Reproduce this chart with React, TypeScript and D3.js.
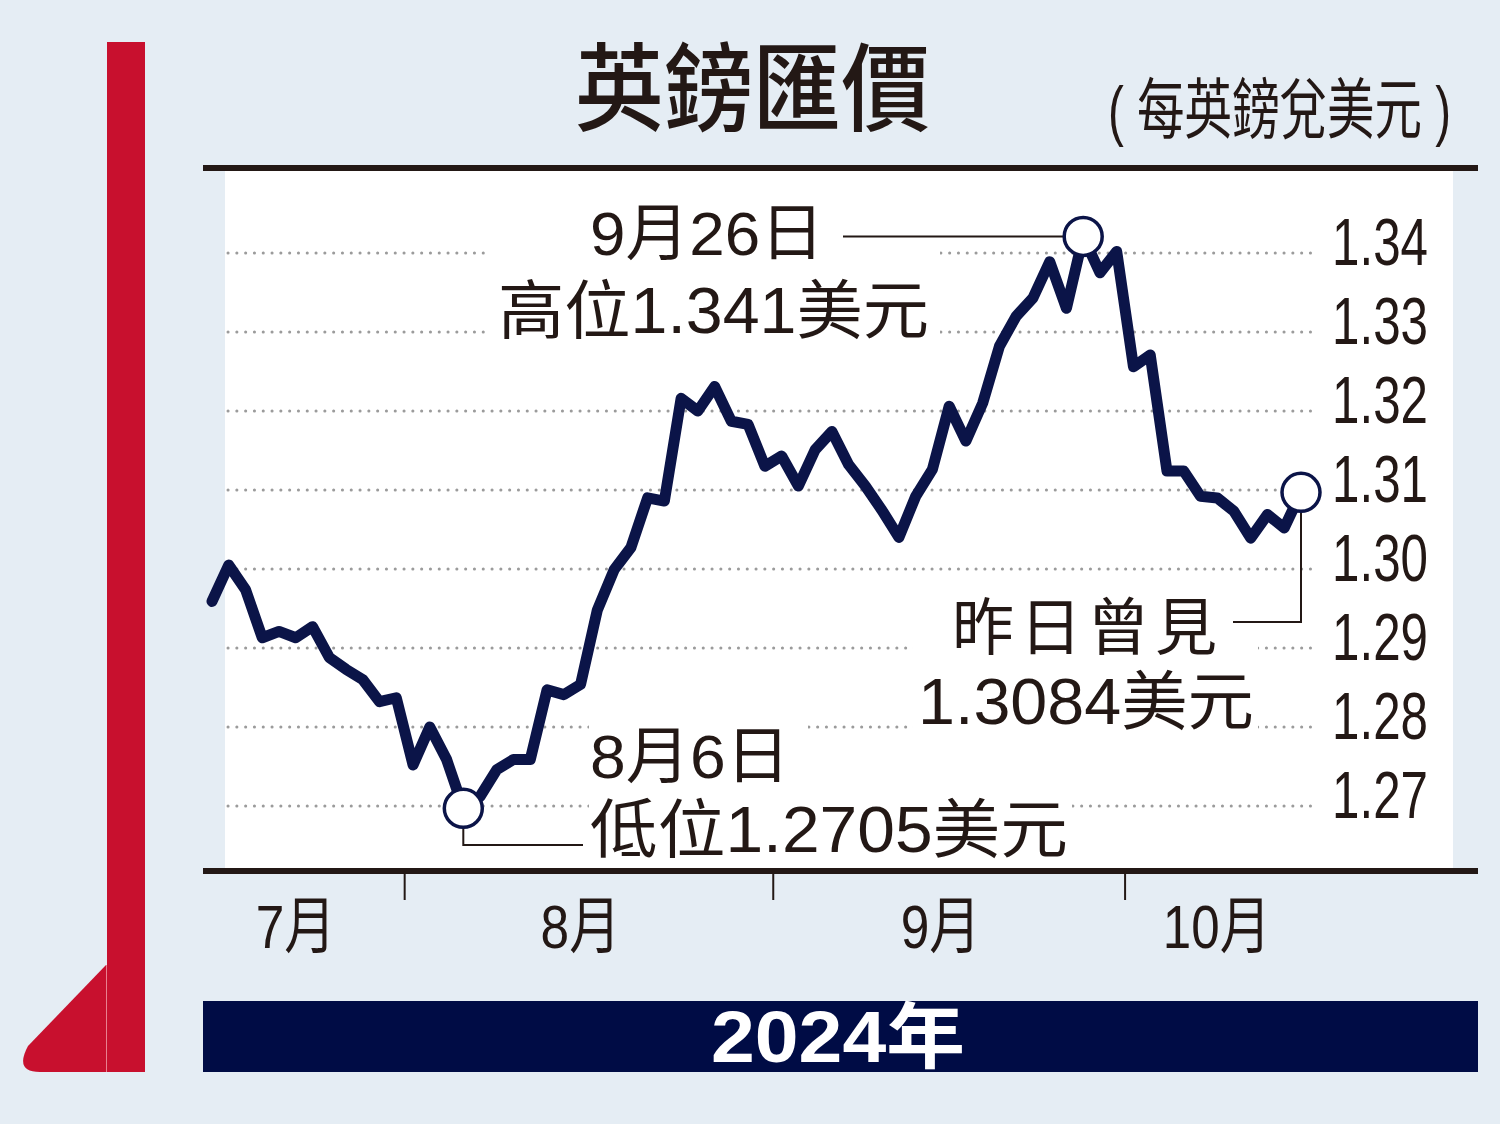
import React from 'react';
import * as d3 from 'd3';

// GBP/USD daily close, 16 Jul - 15 Oct 2024 (trading days)
const months = ['7月', '8月', '9月', '10月'];
const tradingDays = [12, 22, 21, 11];
const gbpUsd = [
  1.2959, 1.3005, 1.2974, 1.2913, 1.2921, 1.2913, 1.2927, 1.2888, 1.2873, 1.286, 1.2832, 1.2837,
  1.2752, 1.28, 1.2759, 1.2697, 1.2712, 1.2746, 1.2759, 1.2759, 1.2847, 1.2841, 1.2854, 1.2948,
  1.2999, 1.3027, 1.309, 1.3086, 1.3216, 1.32, 1.3231, 1.3187, 1.3183, 1.313,
  1.3143, 1.3105, 1.3151, 1.3174, 1.3132, 1.3105, 1.3074, 1.304, 1.3092, 1.3126, 1.3206, 1.3162,
  1.321, 1.3282, 1.332, 1.3343, 1.3389, 1.333, 1.3421, 1.3375, 1.3402,
  1.3256, 1.3271, 1.3124, 1.3124, 1.3092, 1.309, 1.3073, 1.3039, 1.3069, 1.3052, 1.3097,
];
const yTicks = [1.27, 1.28, 1.29, 1.3, 1.31, 1.32, 1.33, 1.34];
const highIdx = 52;
const lowIdx = 15;
const lastIdx = gbpUsd.length - 1;

const ink = '#231815';
const navy = '#0b1448';
const latin = "'Liberation Sans', Arial, 'Noto Sans CJK TC', sans-serif";
const cjk = "'Noto Sans CJK TC', 'Noto Sans CJK SC', sans-serif";

const App: React.FC = () => {
  const x = d3.scaleLinear().domain([0, gbpUsd.length - 1]).range([212, 1301]);
  const y = d3.scaleLinear().domain([1.27, 1.34]).range([806, 253]);
  const line = d3.line<number>().x((_, i) => x(i)).y((d) => y(d));

  // month boundaries in trading-day index
  const starts = Array.from(d3.cumsum([0, ...tradingDays]));
  const ticks = starts.slice(1, -1).map((s) => x(s - 0.5));
  const labelX = months.map((_, k) => x((starts[k] + starts[k + 1]) / 2 - 1));

  const r = 19;
  const hx = x(highIdx), hy = y(gbpUsd[highIdx]);
  const lx = x(lowIdx), ly = y(gbpUsd[lowIdx]);
  const px = x(lastIdx), py = y(gbpUsd[lastIdx]);

  return (
    <svg width={1500} height={1124} style={{ position: 'absolute', left: 0, top: 0 }}>
      <rect width={1500} height={1124} fill="#e5edf4" />

      {/* red side bar */}
      <rect x={107} y={42} width={38} height={1030} fill="#c8102e" />
      <path d="M106,965 L28,1046 Q14,1072 40,1072 L106,1072 Z" fill="#c8102e" />
      <line x1={106.5} x2={106.5} y1={965} y2={1072} stroke="#e8808f" strokeWidth={1} />

      {/* title */}
      <text x={575} y={123} fontFamily={cjk} fontWeight={500} fontSize={96} fill={ink}
        textLength={355} lengthAdjust="spacingAndGlyphs">英鎊匯價</text>
      <text transform="translate(1108,133) scale(0.72,1)" fontFamily={latin} fontSize={66}
        fill={ink}>( 每英鎊兌美元 )</text>

      {/* plot area */}
      <rect x={225} y={171} width={1228} height={698} fill="#fff" />
      <rect x={203} y={165} width={1275} height={6} fill={ink} />

      {/* gridlines */}
      {yTicks.map((t) => (
        <line key={t} x1={228} x2={1312} y1={y(t)} y2={y(t)} stroke="#9b9b9b" strokeWidth={3}
          strokeDasharray="0.1 8.7" strokeLinecap="round" />
      ))}
      {yTicks.map((t) => (
        <text key={'l' + t} x={1332} y={y(t) + 12} fontFamily={latin} fontSize={66} fill={ink}
          textLength={96} lengthAdjust="spacingAndGlyphs">{t.toFixed(2)}</text>
      ))}

      {/* annotation backgrounds */}
      <rect x={488} y={195} width={452} height={150} fill="#fff" />
      <rect x={589} y={718} width={219} height={72} fill="#fff" />
      <rect x={589} y={795} width={483} height={66} fill="#fff" />
      <rect x={913} y={590} width={345} height={145} fill="#fff" />

      {/* leaders */}
      <g stroke={ink} strokeWidth={2} fill="none">
        <path d={`M843,${hy}H${hx - r}`} />
        <path d={`M${lx},${ly + r}V845H583`} />
        <path d={`M${px},${py + r}V622H1233`} />
      </g>

      {/* price line */}
      <path d={line(gbpUsd) ?? ''} fill="none" stroke={navy} strokeWidth={11}
        strokeLinejoin="round" strokeLinecap="round" />
      {[highIdx, lowIdx, lastIdx].map((i) => (
        <circle key={i} cx={x(i)} cy={y(gbpUsd[i])} r={r} fill="#fff" stroke={navy} strokeWidth={3.5} />
      ))}

      {/* annotation texts */}
      <g fontFamily={latin} fontSize={62} fill={ink}>
        <text x={590} y={255} textLength={234} lengthAdjust="spacingAndGlyphs">9月26日</text>
        <text x={498} y={333} fontSize={64} textLength={431} lengthAdjust="spacingAndGlyphs">高位1.341美元</text>
        <text x={590} y={778} textLength={200} lengthAdjust="spacingAndGlyphs">8月6日</text>
        <text x={590} y={852} fontSize={64} textLength={478} lengthAdjust="spacingAndGlyphs">低位1.2705美元</text>
        <text x={952} y={650} fontFamily={cjk} textLength={265} lengthAdjust="spacing">昨日曾見</text>
        <text x={918} y={724} fontSize={64} textLength={336} lengthAdjust="spacingAndGlyphs">1.3084美元</text>
      </g>

      {/* x axis */}
      <rect x={203} y={868} width={1275} height={6} fill={ink} />
      {ticks.map((t, i) => (
        <line key={i} x1={t} x2={t} y1={872} y2={900} stroke={ink} strokeWidth={2} />
      ))}
      {months.map((m, k) => (
        <text key={m} x={labelX[k] + (m.length > 2 ? 8 : 0)} y={948} textAnchor="middle" fontFamily={latin}
          fontSize={62} fill={ink} textLength={m.length > 2 ? 108 : 80}
          lengthAdjust="spacingAndGlyphs">{m}</text>
      ))}

      {/* year band */}
      <rect x={203} y={1001} width={1275} height={71} fill="#000c45" />
      <text x={711} y={1062} fontFamily={latin} fontWeight={700} fontSize={72} fill="#fff"
        textLength={254} lengthAdjust="spacingAndGlyphs">2024年</text>
    </svg>
  );
};

export default App;
